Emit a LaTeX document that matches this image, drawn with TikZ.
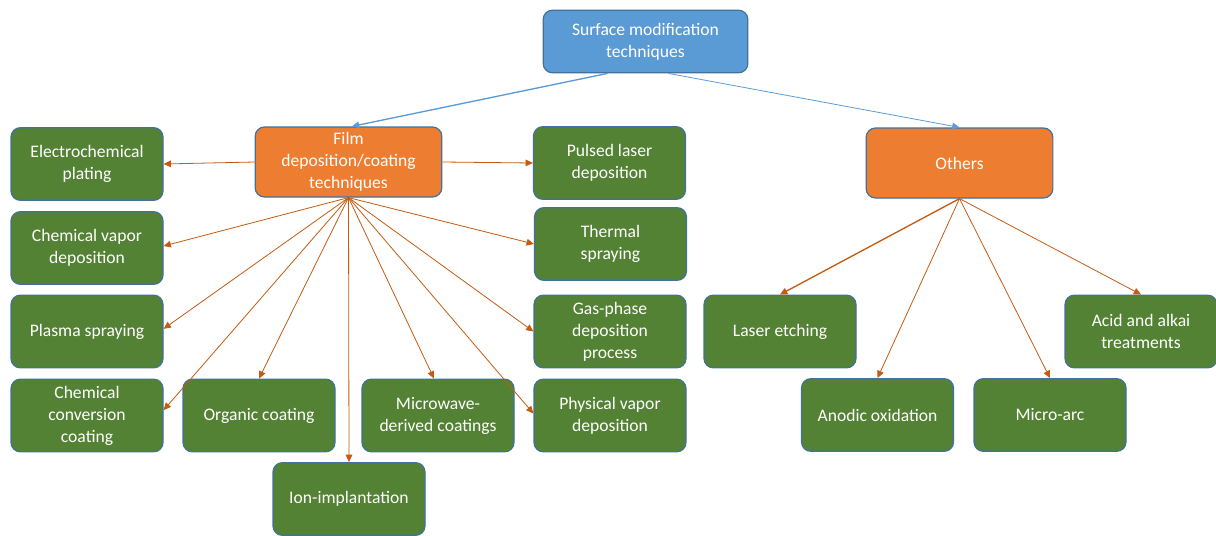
\documentclass[tikz,border=0pt]{standalone}
\usepackage{fontspec}
\setmainfont{Carlito}
\usetikzlibrary{arrows.meta,calc}
\definecolor{bluefill}{HTML}{5B9BD5}
\definecolor{boxline}{HTML}{41719C}
\definecolor{orfill}{HTML}{ED7D31}
\definecolor{grfill}{HTML}{548235}
\definecolor{arrorange}{HTML}{C55A11}
\definecolor{arrblue}{HTML}{5B9BD5}
\begin{document}
\begin{tikzpicture}[x=0.75pt,y=-0.75pt,
  box/.style={draw=boxline, line width=0.9pt, rounded corners=7pt, text=white, align=center,
    font=\fontsize{13.2}{16.5}\selectfont, inner sep=1pt},
  greenbox/.style={box, fill=grfill, minimum width=114pt, minimum height=54.5pt},
  orbox/.style={box, fill=orfill, minimum width=140pt, minimum height=52.5pt},
  topbox/.style={box, fill=bluefill, minimum width=153.5pt, minimum height=47pt},
  arr/.style={draw=arrorange, line width=0.6pt, -{Triangle[length=5.5pt,width=5pt]}},
  barr/.style={draw=arrblue, line width=0.8pt, -{Triangle[length=5.5pt,width=5pt]}}
]
\useasboundingbox (0,0) rectangle (1216,535);
\node[topbox] (top) at (645.5,41.5) {Surface modification\\techniques};
\node[orbox] (film) at (348.5,162) {Film\\deposition/coating\\techniques};
\node[orbox] (others) at (959.5,163) {Others};

\node[greenbox] (ec) at (87,164) {Electrochemical\\plating};
\node[greenbox] (cvd) at (87,248) {Chemical vapor\\deposition};
\node[greenbox] (ps) at (87,331.5) {Plasma spraying};
\node[greenbox] (ccc) at (87,415.5) {Chemical\\conversion\\coating};
\node[greenbox] (oc) at (259,415.5) {Organic coating};
\node[greenbox] (mw) at (438,415.5) {Microwave-\\derived coatings};
\node[greenbox] (ion) at (349,499) {Ion-implantation};
\node[greenbox] (pld) at (609.5,163) {Pulsed laser\\deposition};
\node[greenbox] (ts) at (610.5,244) {Thermal\\spraying};
\node[greenbox] (gp) at (610,331.5) {Gas-phase\\deposition\\process};
\node[greenbox] (pvd) at (610,415.5) {Physical vapor\\deposition};

\node[greenbox] (le) at (780,331.5) {Laser etching};
\node[greenbox] (ao) at (877.5,415) {Anodic oxidation};
\node[greenbox] (ma) at (1050,415) {Micro-arc};
\node[greenbox] (aa) at (1141,331.5) {Acid and alkai\\treatments};

\draw[barr, line width=1pt] ($(top.south)+(-38,0)$) -- ([xshift=2.5pt]film.north);
\draw[barr, line width=0.6pt] ($(top.south)+(23,0)$) -- (others.north);

\draw[arr] (film.west) -- (ec.east);
\draw[arr] (film.east) -- (pld.west);
\draw[arr] (film.south) -- ([yshift=1.5pt]cvd.east);
\draw[arr] (film.south) -- ([yshift=2pt]ps.east);
\draw[arr] (film.south) -- ([yshift=4pt]ccc.east);
\draw[arr] (film.south) -- (oc.north);
\draw[arr] (film.south) -- (ion.north);
\draw[arr] (film.south) -- ([xshift=-3pt]mw.north);
\draw[arr] (film.south) -- (ts.west);
\draw[arr] (film.south) -- (gp.west);
\draw[arr] (film.south) -- ([yshift=1.5pt]pvd.west);

\draw[arr, line width=1pt] (others.south) -- (le.north);
\draw[arr] (others.south) -- (ao.north);
\draw[arr] (others.south) -- (ma.north);
\draw[arr] (others.south) -- (aa.north);
\end{tikzpicture}
\end{document}
